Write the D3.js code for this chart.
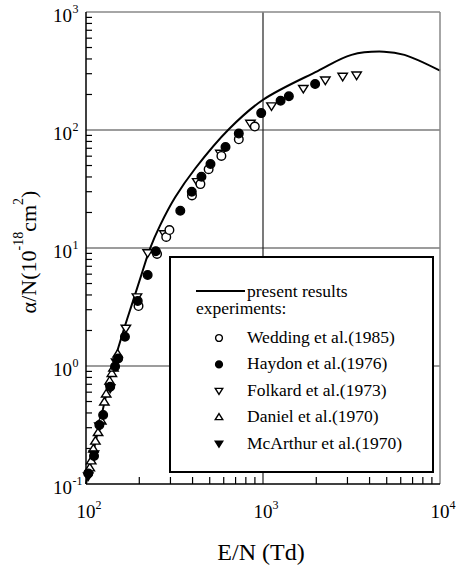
<!DOCTYPE html>
<html lang="en">
<head>
<meta charset="utf-8">
<title>Ionization coefficient</title>
<style>
  body { margin: 0; background: white; }
  svg { display: block; font-family: "Liberation Serif", "Times New Roman", serif; }
</style>
<script src="https://d3js.org/d3.v7.min.js"></script>
</head>
<body>
<script>
// present results (solid line)
const curveE = [100, 120, 142, 160, 185, 208, 230, 263, 319, 415, 643, 996, 2037, 3162, 4820, 6300, 10000]
const curveA = [0.10, 0.335, 0.99, 1.83, 3.62, 6.26, 9.9, 15.7, 26.9, 47.4, 102, 179.5, 316, 433, 461, 433, 318]

// experiments
const weddingE = [198, 252, 284, 296, 397, 443, 493, 582, 730, 899]
const weddingA = [3.22, 8.9, 12.4, 14.2, 27.9, 34.8, 46.5, 60.3, 83.4, 107]

const haydonE = [103, 111, 119, 125, 137, 146, 152, 166, 196, 223, 248, 341, 396, 449, 505, 614, 730, 977, 1257, 1400, 1970]
const haydonA = [0.123, 0.173, 0.316, 0.385, 0.668, 0.99, 1.16, 1.77, 3.56, 5.9, 9.4, 20.7, 30.0, 40.2, 51.5, 71.8, 93.3, 139, 177, 193, 245]

const folkardE = [168, 194, 223, 277, 425, 574, 849, 1117, 1690, 2250, 2820, 3380]
const folkardA = [2.09, 3.85, 9.1, 13.2, 36.5, 63.5, 114, 160, 225, 265, 285, 292]

const danielE = [105, 107, 110, 113, 117, 122, 127, 130, 136, 140, 143, 151]
const danielA = [0.137, 0.157, 0.198, 0.231, 0.273, 0.342, 0.495, 0.579, 0.746, 0.864, 0.96, 1.26]

const mcarthurE = [103, 111, 119, 137, 148]
const mcarthurA = [0.117, 0.18, 0.31, 0.65, 1.08]

const xTicks = [100, 1000, 10000]
const xTickExp = ["2", "3", "4"]
const yTicks = [0.1, 1, 10, 100, 1000]
const yTickExp = ["-1", "0", "1", "2", "3"]

const legendLine = "present results"
const legendHead = "experiments:"
const legendNames = ["Wedding et al.(1985)", "Haydon et al.(1976)", "Folkard et al.(1973)", "Daniel et al.(1970)", "McArthur et al.(1970)"]
const legendKinds = ["circleOpen", "circleFilled", "triDownOpen", "triUpOpen", "triDownFilled"]

let width = 457
let height = 570
let pLeft = 86, pRight = 440, pTop = 12, pBottom = 484

let svg = d3.select("body").append("svg")
    .attr("width", width)
    .attr("height", height)

let x = d3.scaleLog().domain([100, 10000]).range([pLeft, pRight])
let y = d3.scaleLog().domain([0.1, 1000]).range([pBottom, pTop])

// grid lines at the decades
svg.append("g").selectAll("line")
    .data([1, 10, 100])
    .enter().append("line")
    .attr("x1", pLeft).attr("x2", pRight)
    .attr("y1", d => y(d)).attr("y2", d => y(d))
    .attr("stroke", "#3a3a3a").attr("stroke-width", 1.2)
svg.append("line")
    .attr("x1", x(1000)).attr("x2", x(1000))
    .attr("y1", pTop).attr("y2", pBottom)
    .attr("stroke", "#222").attr("stroke-width", 1.2)

// minor ticks, pointing in
let xMinor = x.ticks().filter(d => !xTicks.includes(d))
let yMinor = y.ticks().filter(d => !yTicks.includes(d))

svg.append("g").selectAll("line")
    .data(xMinor)
    .enter().append("line")
    .attr("x1", d => x(d)).attr("x2", d => x(d))
    .attr("y1", pBottom).attr("y2", pBottom - 7)
    .attr("stroke", "black").attr("stroke-width", 1.2)

svg.append("g").selectAll("line")
    .data(yMinor)
    .enter().append("line")
    .attr("x1", pLeft).attr("x2", pLeft + 6)
    .attr("y1", d => y(d)).attr("y2", d => y(d))
    .attr("stroke", "black").attr("stroke-width", 1.2)

// curve
let line = d3.line()
    .x(d => x(d[0]))
    .y(d => y(d[1]))
    .curve(d3.curveCatmullRom.alpha(0.5))

svg.append("path")
    .datum(curveE.map((e, i) => [e, curveA[i]]))
    .attr("d", line)
    .attr("fill", "none")
    .attr("stroke", "black")
    .attr("stroke-width", 2)

// marker paths
let markerPath = (kind, s) => {
    if (kind.startsWith("circle")) {
        return d3.symbol().type(d3.symbolCircle).size(Math.PI * s * s)()
    }
    let h = s * 1.75
    if (kind.startsWith("triUp")) {
        return `M0,${-h * 0.6}L${s * 1.1},${h * 0.4}L${-s * 1.1},${h * 0.4}Z`
    }
    return `M0,${h * 0.6}L${s * 1.1},${-h * 0.4}L${-s * 1.1},${-h * 0.4}Z`
}

let drawMarkers = (es, as, kind) => {
    let filled = kind.endsWith("Filled")
    svg.append("g").selectAll("path")
        .data(es.map((e, i) => [e, as[i]]))
        .enter().append("path")
        .attr("d", markerPath(kind, 4.3))
        .attr("transform", d => `translate(${x(d[0])},${y(d[1])})`)
        .attr("fill", filled ? "black" : "white")
        .attr("stroke", "black")
        .attr("stroke-width", 1.4)
}

drawMarkers(danielE, danielA, "triUpOpen")
drawMarkers(folkardE, folkardA, "triDownOpen")
drawMarkers(weddingE, weddingA, "circleOpen")
drawMarkers(haydonE, haydonA, "circleFilled")
drawMarkers(mcarthurE, mcarthurA, "triDownFilled")

// frame
svg.append("line").attr("x1", pLeft).attr("x2", pRight).attr("y1", pTop).attr("y2", pTop)
    .attr("stroke", "#888").attr("stroke-width", 1.5)
svg.append("line").attr("x1", pRight).attr("x2", pRight).attr("y1", pTop).attr("y2", pBottom)
    .attr("stroke", "#888").attr("stroke-width", 1.5)
svg.append("line").attr("x1", pLeft).attr("x2", pLeft).attr("y1", pTop).attr("y2", pBottom)
    .attr("stroke", "black").attr("stroke-width", 1.5)
svg.append("line").attr("x1", pLeft).attr("x2", pRight).attr("y1", pBottom).attr("y2", pBottom)
    .attr("stroke", "black").attr("stroke-width", 1.5)

// tick labels
let xl = svg.append("g").attr("font-size", 19).attr("fill", "black")
xTicks.forEach((t, i) => {
    xl.append("text").attr("x", x(t)).attr("y", 518).attr("text-anchor", "middle").text("10")
    xl.append("text").attr("x", x(t) + 9.5).attr("y", 509).attr("font-size", 12).text(xTickExp[i])
})
let yl = svg.append("g").attr("font-size", 19).attr("fill", "black")
yTicks.forEach((t, i) => {
    yl.append("text").attr("x", 72).attr("y", y(t) + 10).attr("text-anchor", "end").text("10")
    yl.append("text").attr("x", 72.5).attr("y", y(t) + 1).attr("font-size", 12).text(yTickExp[i])
})

// axis titles
svg.append("text")
    .attr("x", 261).attr("y", 560)
    .attr("text-anchor", "middle")
    .attr("font-size", 24)
    .text("E/N (Td)")

let yt = svg.append("text")
    .attr("transform", "translate(36,252) rotate(-90)")
    .attr("text-anchor", "middle")
    .attr("font-size", 22)
yt.append("tspan").text("α/N(10")
yt.append("tspan").attr("dy", -13).attr("font-size", 14).text("-18")
yt.append("tspan").attr("dy", 13).text("cm")
yt.append("tspan").attr("dy", -13).attr("font-size", 14).text("2")
yt.append("tspan").attr("dy", 13).text(")")

// legend
let lg = svg.append("g")
lg.append("rect")
    .attr("x", 170).attr("y", 257)
    .attr("width", 263).attr("height", 215)
    .attr("fill", "white").attr("stroke", "black").attr("stroke-width", 2)
lg.append("line").attr("x1", 196).attr("x2", 245).attr("y1", 291).attr("y2", 291)
    .attr("stroke", "black").attr("stroke-width", 2)
lg.append("text").attr("x", 247).attr("y", 297).attr("font-size", 17.5).text(legendLine)
lg.append("text").attr("x", 196).attr("y", 314).attr("font-size", 17.5).text(legendHead)
legendNames.forEach((name, i) => {
    let by = 343 + 26.4 * i
    let kind = legendKinds[i]
    lg.append("path")
        .attr("d", markerPath(kind, 3.4))
        .attr("transform", `translate(219,${by - 5})`)
        .attr("fill", kind.endsWith("Filled") ? "black" : "white")
        .attr("stroke", "black").attr("stroke-width", 1.4)
    lg.append("text").attr("x", 247).attr("y", by).attr("font-size", 17.5).text(name)
})
</script>
</body>
</html>
